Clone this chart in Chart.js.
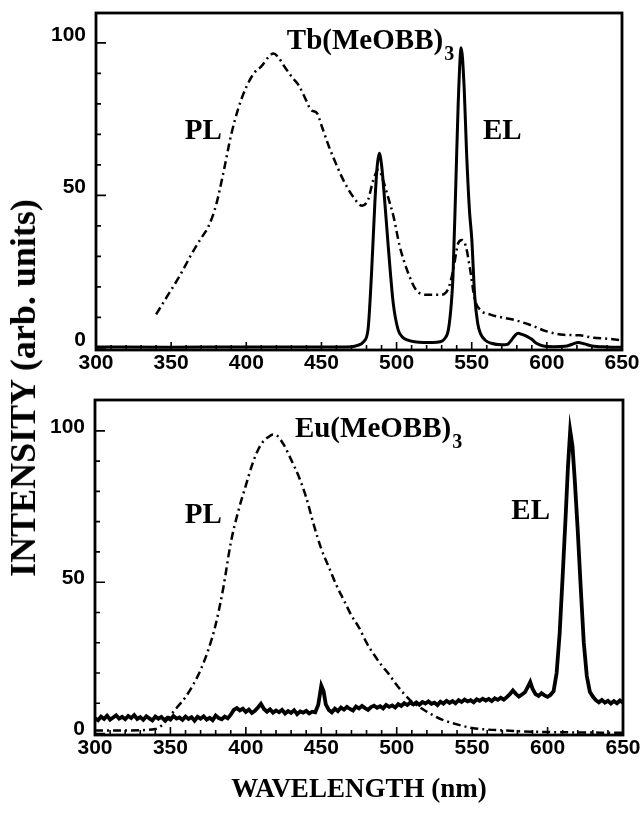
<!DOCTYPE html>
<html>
<head>
<title>Tb / Eu (MeOBB)3 PL and EL spectra</title>
<script src="https://cdn.jsdelivr.net/npm/chart.js"></script>
<style>
  body { margin: 0; background: #fff; width: 644px; height: 813px; position: relative; overflow: hidden; }
  canvas { position: absolute; left: 0; }
  #topChart { top: 0; }
  #bottomChart { top: 385px; }
  #ytitle {
    position: absolute; left: 23px; top: 388px;
    transform: translate(-50%, -50%) rotate(-90deg);
    font: bold 36px "Liberation Serif"; white-space: nowrap; color: #000;
  }
</style>
</head>
<body>
<canvas id="topChart" width="644" height="385"></canvas>
<canvas id="bottomChart" width="644" height="428"></canvas>
<div id="ytitle">INTENSITY (arb. units)</div>

<script>
// axis ticks
const xTicks = [300, 350, 400, 450, 500, 550, 600, 650];
const yTicks = [0, 50, 100];
const xMinor = [];
for (let v = 300; v <= 650; v += 10) xMinor.push(v);
const yMinor = [0, 10, 20, 30, 40, 50, 60, 70, 80, 90, 100];

// Tb(MeOBB)3 - PL (dash-dot)
const tbPLx = [340, 345, 350, 355, 360, 365, 370, 375, 380, 385, 390, 395, 400, 405, 410, 415, 418, 421, 425, 431, 435, 440, 443, 447, 450, 455, 460, 464.6, 471, 477, 481, 484.5, 488, 491, 494, 498, 502, 507, 513, 520, 529, 534, 537.5, 541, 543.5, 546, 549, 552, 556, 562, 567, 578, 589, 600, 611, 622, 631, 640, 650];
const tbPLy = [11, 15, 19, 23, 27.5, 32, 36, 40, 47, 58, 70, 79, 85.5, 90, 92.3, 95.5, 96.5, 95.5, 92.5, 88.4, 86, 81, 78, 77, 73, 66, 60, 55, 49.6, 46.6, 48.5, 55, 58.4, 55, 50, 43, 33.5, 25.5, 19, 17.4, 17.4, 19, 25, 34.3, 35.4, 33.5, 25.5, 16, 12.3, 11, 10.3, 9.2, 7.5, 5.4, 4.3, 4.1, 3.3, 3, 2.5];

// Tb(MeOBB)3 - EL (solid)
const tbELx = [300, 350, 400, 450, 470, 474, 478, 481, 483.4, 485.6, 487, 488.5, 490, 491.5, 494.5, 497.8, 501, 504, 507, 512, 518, 524, 529, 532, 534.5, 536.5, 537.5, 539.5, 541, 543, 545, 546.5, 548.5, 550, 552, 554, 556, 559, 563, 570, 574, 576.5, 579, 581, 583.5, 587, 590, 593, 597, 605, 612, 617, 621, 625, 630, 640, 650];
const tbELy = [0.3, 0.2, 0.3, 0.3, 0.4, 0.8, 2, 6, 25, 48, 59, 63.8, 60, 52, 33, 14.6, 6, 3.5, 2.6, 2, 1.8, 1.8, 2, 3, 6, 15, 23, 55, 80, 98.4, 85, 65, 45, 36, 17, 8, 4.5, 2.5, 1.5, 1, 1.2, 2.6, 4.2, 4.8, 4.4, 3.7, 2.8, 1.5, 0.7, 0.4, 0.5, 1.2, 1.8, 1.3, 0.6, 0.3, 0.2];

// Eu(MeOBB)3 - PL (dash-dot)
const euPLx = [300, 320, 340, 345, 350, 355, 360, 365, 370, 375, 380, 385, 390, 395, 400, 405, 410, 415, 418, 421, 425, 430, 435, 440, 445, 450, 455, 460, 465, 470, 475, 480, 485, 490, 495, 500, 505, 510, 515, 520, 525, 530, 540, 550, 560, 575, 590, 610, 630, 650];
const euPLy = [1, 1, 1.5, 3, 6, 9, 12, 16, 21, 27.5, 36, 48, 63, 73.5, 82, 90, 95.5, 98, 98.8, 98.3, 95.5, 90.5, 85, 78, 69, 61, 55, 49, 44, 39, 35, 30, 26, 22.5, 19.5, 16, 13, 10.5, 8.8, 7.2, 5.8, 4.6, 3, 1.8, 1.3, 0.9, 0.6, 0.4, 0.3, 0.2];

// Eu(MeOBB)3 - EL (solid, noisy)
const euELx = [300, 302, 304, 306, 308, 310, 312, 314, 316, 318, 320, 322, 324, 326, 328, 330, 332, 334, 336, 338, 340, 342, 344, 346, 348, 350, 352, 354, 356, 358, 360, 362, 364, 366, 368, 370, 372, 374, 376, 378, 380, 382, 384, 386, 388, 390, 392, 394, 396, 398, 400, 402, 404, 406, 408, 410, 412, 414, 416, 418, 420, 422, 424, 426, 428, 430, 432, 434, 436, 438, 440, 442, 444, 446, 448, 450, 451.5, 453, 455, 457, 459, 461, 463, 465, 467, 469, 471, 473, 475, 477, 479, 481, 483, 485, 487, 489, 491, 493, 495, 497, 499, 501, 503, 505, 507, 509, 511, 513, 515, 517, 519, 521, 523, 525, 527, 529, 531, 533, 535, 537, 539, 541, 543, 545, 547, 549, 551, 553, 555, 557, 559, 561, 563, 565, 567, 569, 571, 573, 575, 577, 579, 581, 583, 585, 587, 588.5, 590, 592, 594, 596, 598, 600, 602, 604, 606, 608, 610, 612, 613.5, 615, 616.5, 618, 620, 622, 624, 626, 628, 630, 632, 634, 636, 638, 640, 642, 644, 646, 648, 650];
const euELy = [5.0, 4.4, 5.6, 4.8, 5.9, 4.6, 5.3, 6.0, 4.9, 5.5, 4.7, 5.8, 5.1, 6.1, 4.8, 5.4, 4.5, 5.7, 5.0, 4.3, 5.6, 4.9, 5.5, 4.4, 5.2, 4.6, 5.8, 4.9, 5.3, 4.5, 5.6, 4.8, 5.4, 4.2, 5.5, 4.9, 5.7, 4.6, 5.2, 4.4, 5.9, 5.1, 4.7, 5.6, 5.0, 6.2, 7.8, 8.4, 7.6, 8.2, 7.1, 7.9, 6.8, 7.5, 8.6, 9.8, 8.1, 7.2, 8.0, 6.9, 7.6, 7.0, 7.8, 6.6, 7.4, 6.8, 7.7, 6.4, 7.3, 6.9, 7.5, 6.6, 7.2, 7.0, 9.5, 15.8, 14, 9.6, 7.8, 7.0, 8.2, 7.4, 8.6, 7.9, 8.8, 8.1, 7.6, 8.9, 8.3, 9.1, 8.4, 7.8, 8.7, 9.2, 8.5, 9.0, 8.3, 9.4, 8.8, 9.3, 8.6, 9.7, 9.1, 10.0, 9.4, 10.2, 9.6, 10.3, 9.5, 10.4, 9.9, 10.6, 9.8, 10.2, 9.4, 10.5, 9.9, 10.8, 10.1, 10.7, 10.0, 11.0, 10.4, 11.2, 10.6, 11.0, 10.3, 11.3, 10.8, 11.5, 10.9, 11.4, 10.7, 11.6, 11.1, 11.8, 11.2, 12.0, 13.0, 14.2, 13.1, 12.2, 12.9, 13.6, 15.5, 17.0, 14.8, 13.0, 12.4, 13.3, 12.6, 12.1, 12.8, 14.0, 20, 33, 52, 72, 88, 100, 95, 84, 67, 48, 30, 19, 13.8, 12.2, 11.0, 10.3, 11.1, 10.2, 10.8, 9.9, 10.7, 10.0, 10.9, 10.2];

// text anchors (wavelength of left edge, intensity of centre)
const tbNotes = [
  { text: 'PL', x: 359, y: 71 },
  { text: 'EL', x: 557.5, y: 71 },
  { text: 'Tb(MeOBB)', sub: '3', x: 427, y: 100.5 }
];
const euNotes = [
  { text: 'PL', x: 359.5, y: 72 },
  { text: 'EL', x: 576, y: 73.5 },
  { text: 'Eu(MeOBB)', sub: '3', x: 432.5, y: 100.5 }
];

const toPts = (xs, ys) => xs.map((x, i) => ({ x: x, y: ys[i] }));

// frame box, inward ticks and text labels
const frameTicks = {
  id: 'frameTicks',
  afterDraw(chart, args, opts) {
    const { ctx, chartArea: a, scales: { x, y } } = chart;
    ctx.save();
    ctx.strokeStyle = '#000';
    ctx.lineWidth = 1.6;
    ctx.beginPath();
    xMinor.forEach(v => {
      const px = x.getPixelForValue(v);
      const len = v % 50 === 0 ? 8 : 5;
      ctx.moveTo(px, a.bottom);
      ctx.lineTo(px, a.bottom - len);
    });
    yMinor.forEach(v => {
      const py = y.getPixelForValue(v);
      const len = v % 50 === 0 ? 10 : 5;
      ctx.moveTo(a.left, py);
      ctx.lineTo(a.left + len, py);
    });
    ctx.stroke();
    ctx.lineWidth = 2.8;
    ctx.strokeRect(a.left, a.top, a.right - a.left, a.bottom - a.top);

    ctx.fillStyle = '#000';
    ctx.textAlign = 'left';
    ctx.textBaseline = 'middle';
    opts.notes.forEach(n => {
      const px = x.getPixelForValue(n.x);
      const py = y.getPixelForValue(n.y);
      ctx.font = 'bold 29px "Liberation Serif"';
      ctx.fillText(n.text, px, py);
      if (n.sub) {
        const w = ctx.measureText(n.text).width;
        ctx.font = 'bold 20px "Liberation Serif"';
        ctx.fillText(n.sub, px + w + 1, py + 13);
      }
    });
    ctx.restore();
  }
};

function makeChart(id, plx, ply, elx, ely, notes, o) {
  return new Chart(document.getElementById(id), {
    type: 'line',
    data: {
      datasets: [
        {
          label: 'PL',
          data: toPts(plx, ply),
          borderColor: '#000',
          borderWidth: 2.5,
          borderDash: [8, 4, 2, 4],
          pointRadius: 0,
          cubicInterpolationMode: 'monotone'
        },
        {
          label: 'EL',
          data: toPts(elx, ely),
          borderColor: '#000',
          borderWidth: o.elWidth,
          pointRadius: 0,
          cubicInterpolationMode: o.elMode,
          tension: o.elMode === 'monotone' ? 0.4 : 0
        }
      ]
    },
    options: {
      responsive: false,
      animation: false,
      events: [],
      layout: { padding: { top: o.padTop, right: o.padRight, left: 0, bottom: 0 } },
      plugins: {
        legend: { display: false },
        tooltip: { enabled: false },
        frameTicks: { notes: notes }
      },
      scales: {
        x: {
          type: 'linear',
          min: 300,
          max: 650,
          afterBuildTicks: s => { s.ticks = xTicks.map(v => ({ value: v })); },
          afterFit: s => { s.height = o.xHeight; s.paddingLeft = 0; s.paddingRight = 0; },
          grid: { display: false, drawTicks: false },
          border: { display: false },
          ticks: {
            padding: 1,
            maxRotation: 0,
            autoSkip: false,
            color: '#000',
            font: { family: '"Liberation Sans"', weight: 'bold', size: 21 }
          },
          title: {
            display: o.xTitle,
            text: 'WAVELENGTH (nm)',
            color: '#000',
            padding: { top: 4, bottom: 7 },
            font: { family: '"Liberation Serif"', weight: 'bold', size: 27 }
          }
        },
        y: {
          min: o.yMin,
          max: o.yMax,
          afterBuildTicks: s => { s.ticks = yTicks.map(v => ({ value: v })); },
          afterFit: s => { s.width = o.yWidth; s.paddingTop = 0; s.paddingBottom = 0; },
          grid: { display: false, drawTicks: false },
          border: { display: false },
          ticks: {
            padding: 10,
            labelOffset: o.labelOffset,
            color: '#000',
            font: { family: '"Liberation Sans"', weight: 'bold', size: 21 }
          }
        }
      }
    },
    plugins: [frameTicks]
  });
}

makeChart('topChart', tbPLx, tbPLy, tbELx, tbELy, tbNotes, {
  padTop: 13, padRight: 22, xHeight: 35, yWidth: 96,
  yMin: -0.7, yMax: 109.8, labelOffset: -8, xTitle: false,
  elWidth: 3, elMode: 'monotone'
});

makeChart('bottomChart', euPLx, euPLy, euELx, euELy, euNotes, {
  padTop: 15, padRight: 21, xHeight: 78, yWidth: 95,
  yMin: -0.5, yMax: 110.2, labelOffset: -4, xTitle: true,
  elWidth: 3.8, elMode: 'default'
});
</script>
</body>
</html>
